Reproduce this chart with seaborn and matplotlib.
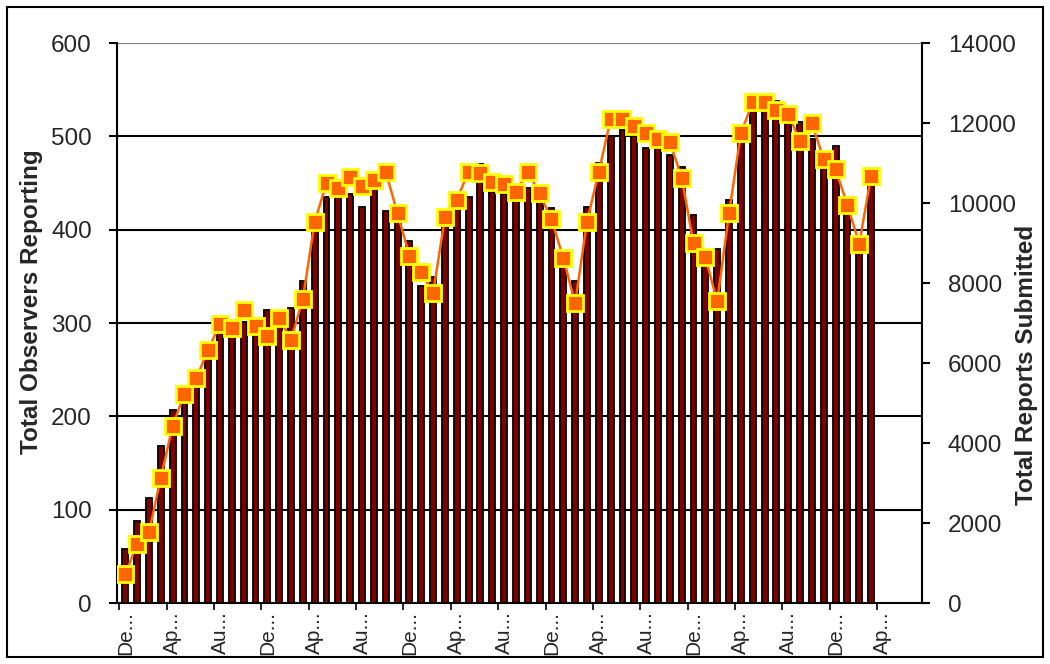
import matplotlib
matplotlib.use("Agg")
import matplotlib.pyplot as plt
import seaborn as sns
import numpy as np
import pandas as pd
from matplotlib.patches import Rectangle
from matplotlib.ticker import FixedLocator

# Monthly values, first month is December; 68 category slots on the axis,
# the last four are empty.
observers = [58, 88, 113, 168, 207, 216, 232, 262, 289, 287, 301, 289, 314, 310, 316, 345,
             400, 435, 437, 438, 424, 444, 420, 408, 388, 340, 349, 405, 425, 435, 470, 440,
             438, 432, 445, 431, 423, 365, 345, 424, 471, 500, 507, 500, 488, 488, 480, 467,
             416, 361, 379, 432, 494, 529, 531, 538, 519, 515, 497, 473, 490, 420, 378, 451]
reports = [720, 1480, 1770, 3130, 4430, 5230, 5620, 6330, 6980, 6880, 7330, 6930, 6680, 7130, 6580, 7600,
           9530, 10500, 10380, 10640, 10430, 10580, 10780, 9740, 8680, 8280, 7740, 9640, 10080, 10780, 10740, 10530,
           10480, 10280, 10780, 10240, 9590, 8630, 7490, 9530, 10780, 12090, 12090, 11930, 11740, 11590, 11530, 10630,
           8990, 8640, 7540, 9740, 11740, 12530, 12530, 12330, 12230, 11540, 11990, 11090, 10840, 9950, 8980, 10680]
n_slots = 68
tick_labels = ["De...", "Ap...", "Au..."] * 5 + ["De...", "Ap..."]

sns.set_theme(style="white")
plt.rcParams["font.family"] = ["Liberation Sans", "DejaVu Sans"]

df = pd.DataFrame({"month": np.arange(len(observers)),
                   "observers": observers,
                   "reports": reports})

W, H = 1050, 664
fig = plt.figure(figsize=(W / 100, H / 100), dpi=100)
ax = fig.add_axes([117 / W, 1 - 603 / H, 805 / W, 560 / H])

# horizontal reference lines behind the bars
for v in range(100, 600, 100):
    ax.axhline(v, color="black", linewidth=1.5, zorder=0)
ax.axhline(600, color="#808080", linewidth=1.5, zorder=0)

sns.barplot(data=df, x="month", y="observers", native_scale=True,
            color="#800000", saturation=1, edgecolor="black", linewidth=1.3,
            width=0.5, ax=ax, zorder=2)

ax.set_xlim(-0.7, n_slots - 0.7)
ax.set_ylim(0, 600)
ax.set_yticks(range(0, 601, 100))
ax.set_xlabel("")
ax.set_ylabel("")

ax.xaxis.set_major_locator(FixedLocator(list(range(0, n_slots - 3, 4))))
ax.set_xticklabels(tick_labels, rotation=90, fontsize=15)
ax.xaxis.set_minor_locator(FixedLocator([k - 0.5 for k in range(0, n_slots, 4)]))
ax.tick_params(axis="x", which="major", bottom=True, length=0, pad=6)
ax.tick_params(axis="x", which="minor", bottom=True, length=5, width=1.2,
               color="black", direction="out")
ax.tick_params(axis="y", left=True, length=6, width=1.5, color="black",
               direction="out", pad=12, labelsize=17.5)

for side in ["top", "right"]:
    ax.spines[side].set_visible(False)
for side in ["left", "bottom"]:
    ax.spines[side].set_color("black")
    ax.spines[side].set_linewidth(1.5)

ax2 = ax.twinx()
sns.lineplot(data=df, x="month", y="reports", ax=ax2, color="#FF6600",
             linewidth=1.8, marker="s", markersize=11,
             markerfacecolor="#FF6600", markeredgecolor="#FFFF00",
             markeredgewidth=2, zorder=3)
ax2.set_ylim(0, 14000)
ax2.set_yticks(range(0, 14001, 2000))
ax2.set_ylabel("")
ax2.set_xlim(-0.7, n_slots - 0.7)
ax2.tick_params(axis="y", right=True, length=6, width=1.5, color="black",
                direction="out", pad=12.5, labelsize=17.5)
for side in ["top", "left", "bottom"]:
    ax2.spines[side].set_visible(False)
ax2.spines["right"].set_color("black")
ax2.spines["right"].set_linewidth(1.5)

fig.text(32 / W, 1 - 302 / H, "Total Observers Reporting", rotation=90,
         ha="center", va="center", fontsize=17.5, fontweight="bold")
fig.text(1026 / W, 1 - 365 / H, "Total Reports Submitted", rotation=90,
         ha="center", va="center", fontsize=17.5, fontweight="bold")

# outer chart border
fig.patches.append(Rectangle((7 / W, 7 / H), 1036 / W, 650 / H,
                             transform=fig.transFigure, fill=False,
                             edgecolor="black", linewidth=1.5))

fig.savefig("out.png", dpi=100)
